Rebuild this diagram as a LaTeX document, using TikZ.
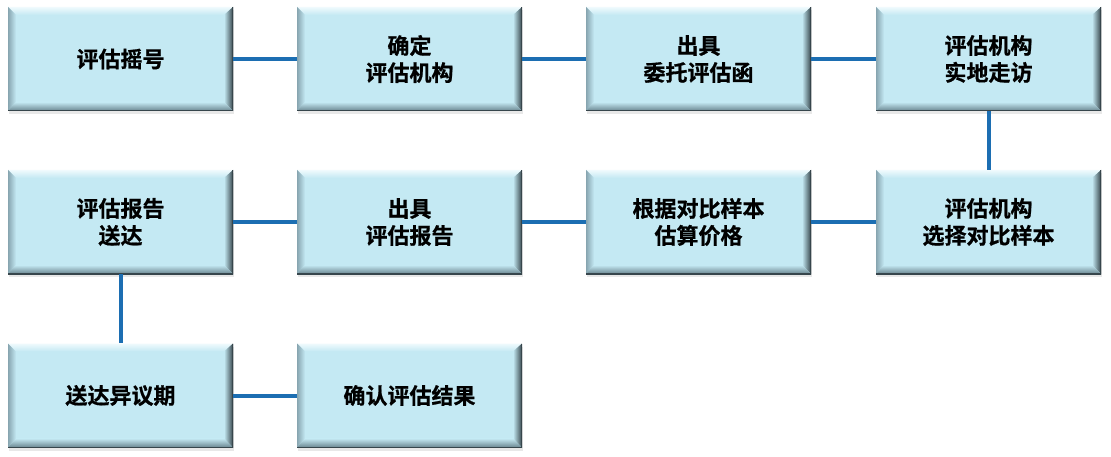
\documentclass[tikz,border=0pt]{standalone}
\usepackage{fontspec}
\newfontfamily\cjk{Noto Sans CJK SC}[BoldFont={Noto Sans CJK SC Bold},BoldFeatures={FakeBold=0.8}]
\usetikzlibrary{shadows,calc}
\definecolor{boxfill}{RGB}{196,233,243}
\definecolor{bevtop}{RGB}{240,250,253}
\definecolor{bevleft}{RGB}{135,165,176}
\definecolor{bevright}{RGB}{55,70,76}
\definecolor{bevbot}{RGB}{105,132,142}
\definecolor{linkblue}{RGB}{28,110,178}
\tikzset{
  bevbox/.style={
    rectangle, minimum width=225pt, minimum height=104pt, inner sep=0pt,
    fill=boxfill, draw=none,
    align=center, font=\cjk\bfseries\fontsize{22}{27}\selectfont,
    drop shadow={opacity=0.18, shadow xshift=1pt, shadow yshift=-3pt},
    path picture={
      \coordinate (NW) at (path picture bounding box.north west);
      \coordinate (SE) at (path picture bounding box.south east);
      \coordinate (NE) at (path picture bounding box.north east);
      \coordinate (SW) at (path picture bounding box.south west);
      \coordinate (iNW) at ([xshift=8pt,yshift=-8pt]NW);
      \coordinate (iNE) at ([xshift=-9pt,yshift=-8pt]NE);
      \coordinate (iSE) at ([xshift=-9pt,yshift=9pt]SE);
      \coordinate (iSW) at ([xshift=8pt,yshift=9pt]SW);
      \shade[top color=bevtop, bottom color=boxfill] (NW) -- (NE) -- (iNE) -- (iNW) -- cycle;
      \shade[left color=bevleft, right color=boxfill] (NW) -- (iNW) -- (iSW) -- (SW) -- cycle;
      \shade[left color=boxfill, right color=bevright] (NE) -- (SE) -- (iSE) -- (iNE) -- cycle;
      \shade[top color=boxfill, bottom color=bevbot] (SW) -- (iSW) -- (iSE) -- (SE) -- cycle;
      \draw[bevright, line width=1.5pt] (NE) -- (SE) -- (SW);
    }
  },
  link/.style={draw=linkblue, line width=4pt}
}
\begin{document}
\begin{tikzpicture}[x=1pt,y=-1pt]
\useasboundingbox (0,0) rectangle (1111,457);
\fill[white] (0,0) rectangle (1111,457);
% row 1
\node[bevbox] (a1) at (120.5,59) {评估摇号};
\node[bevbox] (a2) at (409.5,59) {确定\\评估机构};
\node[bevbox] (a3) at (698.5,59) {出具\\委托评估函};
\node[bevbox] (a4) at (988.5,59) {评估机构\\实地走访};
% row 2
\node[bevbox] (b1) at (120.5,222) {评估报告\\送达};
\node[bevbox] (b2) at (409.5,222) {出具\\评估报告};
\node[bevbox] (b3) at (698.5,222) {根据对比样本\\估算价格};
\node[bevbox] (b4) at (988.5,222) {评估机构\\选择对比样本};
% row 3
\node[bevbox] (c1) at (120.5,395.5) {送达异议期};
\node[bevbox] (c2) at (409.5,395.5) {确认评估结果};
% connectors
\draw[link] (a1.east) -- (a2.west);
\draw[link] (a2.east) -- (a3.west);
\draw[link] (a3.east) -- (a4.west);
\draw[link] (a4.south) -- (b4.north);
\draw[link] (b4.west) -- (b3.east);
\draw[link] (b3.west) -- (b2.east);
\draw[link] (b2.west) -- (b1.east);
\draw[link] (b1.south) -- (c1.north);
\draw[link] (c1.east) -- (c2.west);
\end{tikzpicture}
\end{document}
